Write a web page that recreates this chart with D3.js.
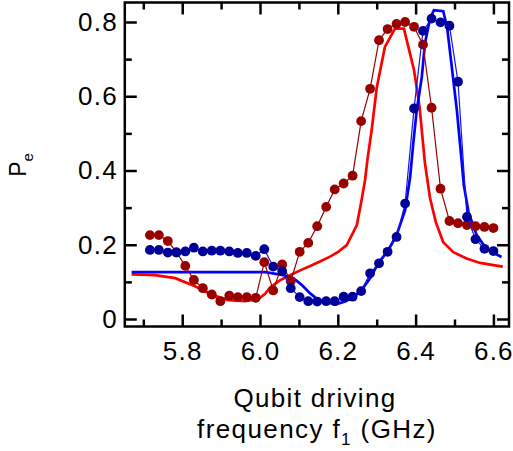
<!DOCTYPE html>
<html>
<head>
<meta charset="utf-8">
<script src="https://cdn.jsdelivr.net/npm/d3@7"></script>
<style>
  html, body { margin: 0; padding: 0; background: #fff; }
  svg { display: block; }
  text { font-family: "Liberation Sans", Arial, Helvetica, sans-serif; fill: #000; }
</style>
</head>
<body>
<svg id="chart" width="513" height="451"></svg>
<script>
// ---- data ----
const fExp = [5.717, 5.740, 5.763, 5.785, 5.808, 5.830, 5.853, 5.876, 5.898, 5.921,
              5.943, 5.966, 5.989, 6.011, 6.034, 6.057, 6.079, 6.102, 6.124, 6.147,
              6.170, 6.192, 6.215, 6.238, 6.260, 6.283, 6.306, 6.328, 6.351, 6.373,
              6.396, 6.419, 6.441, 6.464, 6.487, 6.509, 6.532, 6.554, 6.577, 6.600];
const pRedExp = [0.226, 0.226, 0.210, 0.180, 0.143, 0.105, 0.083, 0.066, 0.048, 0.063,
                 0.059, 0.059, 0.057, 0.153, 0.077, 0.147, 0.102, 0.181, 0.205, 0.250,
                 0.302, 0.349, 0.365, 0.386, 0.533, 0.620, 0.751, 0.781, 0.795, 0.800,
                 0.787, 0.739, 0.569, 0.351, 0.264, 0.258, 0.253, 0.250, 0.248, 0.245];
const pBlueExp = [0.186, 0.186, 0.179, 0.179, 0.182, 0.192, 0.182, 0.184, 0.184, 0.182,
                  0.178, 0.178, 0.170, 0.188, 0.141, 0.129, 0.083, 0.059, 0.048, 0.047,
                  0.048, 0.048, 0.060, 0.060, 0.075, 0.123, 0.150, 0.181, 0.221, 0.311,
                  0.567, 0.776, 0.809, 0.799, 0.790, 0.639, 0.275, 0.215, 0.189, 0.183];

const fRedTh = [5.670, 5.730, 5.782, 5.833, 5.876, 5.919, 5.961, 5.996, 6.013, 6.026,
                6.051, 6.077, 6.103, 6.129, 6.154, 6.180, 6.201, 6.223, 6.249, 6.261,
                6.270, 6.276, 6.287, 6.300, 6.321, 6.347, 6.370, 6.396, 6.410, 6.424,
                6.437, 6.452, 6.471, 6.497, 6.531, 6.566, 6.600, 6.624];
const pRedTh = [0.120, 0.118, 0.110, 0.088, 0.065, 0.051, 0.048, 0.054, 0.068, 0.085,
                0.104, 0.118, 0.131, 0.143, 0.155, 0.168, 0.181, 0.199, 0.253, 0.320,
                0.374, 0.428, 0.509, 0.622, 0.733, 0.782, 0.782, 0.670, 0.573, 0.420,
                0.326, 0.261, 0.207, 0.180, 0.163, 0.151, 0.145, 0.141];

const fBlueTh = [5.670, 6.013, 6.060, 6.086, 6.107, 6.129, 6.150, 6.176, 6.197, 6.219,
                 6.240, 6.261, 6.283, 6.304, 6.330, 6.351, 6.373, 6.386, 6.394, 6.403,
                 6.416, 6.424, 6.437, 6.447, 6.471, 6.481, 6.493, 6.506, 6.517, 6.524,
                 6.536, 6.557, 6.583, 6.621];
const pBlueTh = [0.126, 0.126, 0.118, 0.110, 0.092, 0.069, 0.051, 0.044, 0.040, 0.047,
                 0.058, 0.078, 0.110, 0.150, 0.186, 0.226, 0.293, 0.383, 0.473, 0.563,
                 0.652, 0.742, 0.809, 0.832, 0.829, 0.786, 0.679, 0.563, 0.441, 0.361,
                 0.288, 0.226, 0.188, 0.167];

const xMajor = [5.8, 6.0, 6.2, 6.4, 6.6];
const xMinor = [5.7, 5.9, 6.1, 6.3, 6.5];
const xLabels = ["5.8", "6.0", "6.2", "6.4", "6.6"];
const yMajor = [0, 0.2, 0.4, 0.6, 0.8];
const yMinor = [0.1, 0.3, 0.5, 0.7];
const yLabels = ["0", "0.2", "0.4", "0.6", "0.8"];

// ---- layout ----
const L = 124.8, R = 509, T = 2.5, B = 326.5;
const svg = d3.select("#chart");

const x = d3.scaleLinear().domain([5.6524, 6.6401]).range([L, R]);
const y = d3.scaleLinear().domain([-0.0202, 0.8525]).range([B, T]);

const lineGen = d3.line().x(d => x(d[0])).y(d => y(d[1])).curve(d3.curveLinear);

const redTh = fRedTh.map((f, i) => [f, pRedTh[i]]);
const blueTh = fBlueTh.map((f, i) => [f, pBlueTh[i]]);
const redExp = fExp.map((f, i) => [f, pRedExp[i]]);
const blueExp = fExp.map((f, i) => [f, pBlueExp[i]]);

const plot = svg.append("g");

// theory curves
plot.append("path").datum(redTh).attr("d", lineGen)
  .attr("fill", "none").attr("stroke", "#ff0000").attr("stroke-width", 2.7)
  .attr("stroke-linejoin", "miter");
plot.append("path").datum(blueTh).attr("d", lineGen)
  .attr("fill", "none").attr("stroke", "#0000ff").attr("stroke-width", 2.7)
  .attr("stroke-linejoin", "miter");

// experimental red
plot.append("path").datum(redExp).attr("d", lineGen)
  .attr("fill", "none").attr("stroke", "#990000").attr("stroke-width", 1.2);
plot.selectAll("circle.red").data(redExp).enter().append("circle")
  .attr("class", "red").attr("cx", d => x(d[0])).attr("cy", d => y(d[1]))
  .attr("r", 4.9).attr("fill", "#990000");

// experimental blue
plot.append("path").datum(blueExp).attr("d", lineGen)
  .attr("fill", "none").attr("stroke", "#1414e6").attr("stroke-width", 1.2);
plot.selectAll("circle.blue").data(blueExp).enter().append("circle")
  .attr("class", "blue").attr("cx", d => x(d[0])).attr("cy", d => y(d[1]))
  .attr("r", 4.9).attr("fill", "#000099");

// ---- axes ----
function styleAxis(g) {
  g.select(".domain").remove();
  g.selectAll(".tick line").attr("stroke", "#000").attr("stroke-width", 2.5);
  g.selectAll(".tick text")
    .style("font-family", '"Liberation Sans", Arial, sans-serif')
    .style("font-size", "26px").style("letter-spacing", "1.2px").attr("fill", "#000");
}

svg.append("g").attr("transform", `translate(0,${B})`)
  .call(d3.axisBottom(x).tickValues(xMajor).tickSize(-12).tickPadding(15)
        .tickFormat((d, i) => xLabels[i]))
  .call(styleAxis);
svg.append("g").attr("transform", `translate(0,${B})`)
  .call(d3.axisBottom(x).tickValues(xMinor).tickSize(-7).tickFormat(""))
  .call(styleAxis);
svg.append("g").attr("transform", `translate(0,${T})`)
  .call(d3.axisTop(x).tickValues(xMajor).tickSize(-12).tickFormat(""))
  .call(styleAxis);
svg.append("g").attr("transform", `translate(0,${T})`)
  .call(d3.axisTop(x).tickValues(xMinor).tickSize(-7).tickFormat(""))
  .call(styleAxis);

svg.append("g").attr("transform", `translate(${L},0)`)
  .call(d3.axisLeft(y).tickValues(yMajor).tickSize(-12).tickPadding(7)
        .tickFormat((d, i) => yLabels[i]))
  .call(styleAxis);
svg.append("g").attr("transform", `translate(${L},0)`)
  .call(d3.axisLeft(y).tickValues(yMinor).tickSize(-7).tickFormat(""))
  .call(styleAxis);
svg.append("g").attr("transform", `translate(${R},0)`)
  .call(d3.axisRight(y).tickValues(yMajor).tickSize(-12).tickFormat(""))
  .call(styleAxis);
svg.append("g").attr("transform", `translate(${R},0)`)
  .call(d3.axisRight(y).tickValues(yMinor).tickSize(-7).tickFormat(""))
  .call(styleAxis);

// frame
svg.append("rect").attr("x", L).attr("y", T).attr("width", R - L).attr("height", B - T)
  .attr("fill", "none").attr("stroke", "#000").attr("stroke-width", 2.5);

// ---- titles ----
svg.append("text").attr("x", 315).attr("y", 406.5)
  .attr("text-anchor", "middle").style("font-size", "26px").style("letter-spacing", "1.3px")
  .text("Qubit driving");
const xt2 = svg.append("text").attr("x", 317).attr("y", 438)
  .attr("text-anchor", "middle").style("font-size", "26px").style("letter-spacing", "1.4px");
xt2.append("tspan").text("frequency f");
xt2.append("tspan").attr("dy", 7).style("font-size", "17px").text("1");
xt2.append("tspan").attr("dy", -7).text(" (GHz)");

const yt = svg.append("text").attr("transform", "translate(26,165) rotate(-90)")
  .attr("text-anchor", "middle").style("font-size", "23px");
yt.append("tspan").text("P");
yt.append("tspan").attr("dy", 7).style("font-size", "15px").text("e");
</script>
</body>
</html>
